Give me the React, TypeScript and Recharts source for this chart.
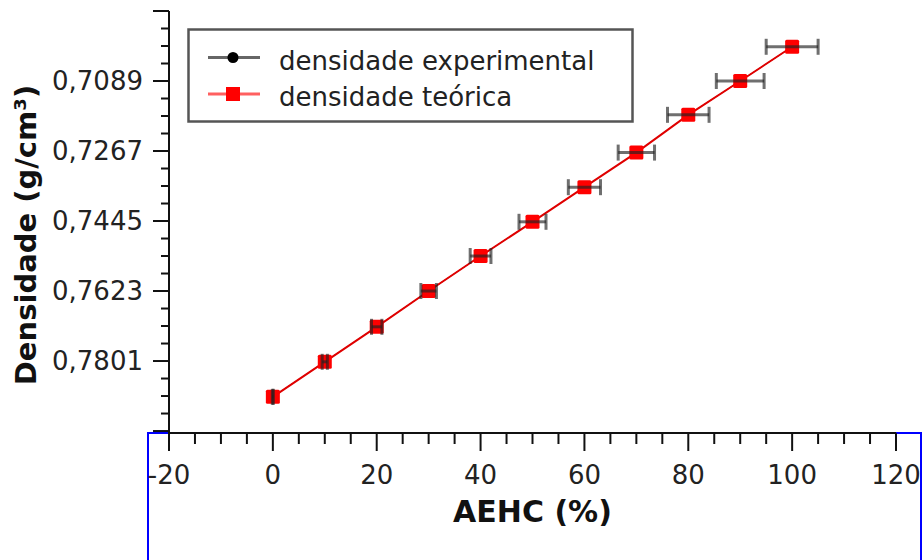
import React from 'react';
import { ComposedChart, Scatter, XAxis, YAxis, ErrorBar } from 'recharts';

const xValues = [0, 10, 20, 30, 40, 50, 60, 70, 80, 90, 100];
const densExperimental = [0.7892, 0.7803, 0.7714, 0.7623, 0.7534, 0.7447, 0.7359, 0.7271, 0.7175, 0.7089, 0.7002];
const densTeorica = [0.7892, 0.7803, 0.7714, 0.7623, 0.7534, 0.7447, 0.7359, 0.7271, 0.7175, 0.7089, 0.7002];
const xError = [0.1, 0.5, 1, 1.5, 2, 2.6, 3.1, 3.5, 4, 4.6, 5];

const yMajorTicks = [0.6911, 0.7089, 0.7267, 0.7445, 0.7623, 0.7801, 0.7979];
const yTickLabels = ['', '0,7089', '0,7267', '0,7445', '0,7623', '0,7801', ''];
const xMajorTicks = [-20, 0, 20, 40, 60, 80, 100, 120];
const xTickLabels = ['-20', '0', '20', '40', '60', '80', '100', '120'];

const yDomain = [0.6911, 0.7984];
const xDomain = [-20, 120];

const FONT = 'DejaVu Sans';

const expData = xValues.map((x, i) => ({ x, y: densExperimental[i], err: xError[i] }));
const teoData = xValues.map((x, i) => ({ x, y: densTeorica[i] }));

// minor ticks: 4 subdivisions between majors
const yTicksAll: number[] = [];
for (let i = 0; i < yMajorTicks.length; i++) {
  const v = yMajorTicks[i];
  yTicksAll.push(v);
  if (i < yMajorTicks.length - 1) {
    const step = (yMajorTicks[i + 1] - v) / 4;
    for (let k = 1; k < 4; k++) yTicksAll.push(+(v + k * step).toFixed(6));
  }
}
const xTicksAll: number[] = [];
for (let i = 0; i < xMajorTicks.length; i++) {
  const v = xMajorTicks[i];
  xTicksAll.push(v);
  if (i < xMajorTicks.length - 1) {
    const step = (xMajorTicks[i + 1] - v) / 4;
    for (let k = 1; k < 4; k++) xTicksAll.push(v + k * step);
  }
}

const YTick = (props: any) => {
  const { x, y, payload } = props;
  const idx = yMajorTicks.findIndex((m) => Math.abs(m - payload.value) < 1e-6);
  const major = idx >= 0;
  const len = major ? 16 : 8;
  return (
    <g>
      <line x1={x - len} y1={y} x2={x} y2={y} stroke="#111" strokeWidth={2} />
      {major && yTickLabels[idx] ? (
        <text x={x - 26} y={y + 9} textAnchor="end" fontFamily={FONT} fontSize={26} fill="#222">
          {yTickLabels[idx]}
        </text>
      ) : null}
    </g>
  );
};

const XTick = (props: any) => {
  const { x, y, payload } = props;
  const idx = xMajorTicks.findIndex((m) => Math.abs(m - payload.value) < 1e-6);
  const major = idx >= 0;
  const len = major ? 18 : 11;
  return (
    <g>
      <line x1={x} y1={y} x2={x} y2={y + len} stroke="#111" strokeWidth={2} />
      {major ? (
        <text x={x} y={y + 51} textAnchor="middle" fontFamily={FONT} fontSize={26} fill="#222">
          {xTickLabels[idx]}
        </text>
      ) : null}
    </g>
  );
};

const RedSquare = (props: any) => {
  const { cx, cy } = props;
  if (cx == null || cy == null) return <g />;
  return <rect x={cx - 7} y={cy - 7} width={14} height={14} fill="#ff0000" rx={1.5} />;
};

const BlackDot = (props: any) => {
  const { cx, cy } = props;
  if (cx == null || cy == null) return <g />;
  return <circle cx={cx} cy={cy} r={5} fill="#000" />;
};

const Empty = () => <g />;

const Legend = () => (
  <svg width={448} height={96} style={{ position: 'absolute', left: 187, top: 28 }}>
    <rect x={1.5} y={1.5} width={444} height={92} fill="#fff" stroke="#555" strokeWidth={2.5} />
    <line x1={21} y1={29.5} x2={73} y2={29.5} stroke="#666" strokeWidth={3} />
    <circle cx={46} cy={29.5} r={5.5} fill="#000" />
    <text x={92} y={42} fontFamily={FONT} fontSize={26} fill="#222">densidade experimental</text>
    <line x1={21} y1={66} x2={73} y2={66} stroke="#ff6060" strokeWidth={3} />
    <rect x={39} y={59} width={14} height={14} fill="#ff0000" />
    <text x={92} y={78} fontFamily={FONT} fontSize={26} fill="#222">densidade teórica</text>
  </svg>
);

export default function App() {
  return (
    <div style={{ position: 'absolute', left: 0, top: 0, width: 924, height: 560, overflow: 'hidden', background: '#fff' }}>
      <div
        style={{
          position: 'absolute',
          left: 147,
          top: 432,
          width: 771,
          height: 140,
          border: '2px solid #0000ff',
          borderBottom: 'none',
        }}
      />
      <div style={{ position: 'absolute', left: 0, top: 0 }}>
        <ComposedChart width={924} height={560} margin={{ top: 11, right: 28, bottom: 0, left: 0 }}>
          <XAxis
            type="number"
            dataKey="x"
            domain={xDomain}
            ticks={xTicksAll}
            interval={0}
            allowDataOverflow
            height={127}
            tickSize={0}
            tickMargin={0}
            tickLine={false}
            axisLine={{ stroke: '#111', strokeWidth: 2 }}
            tick={<XTick />}
            label={{
              content: (p: any) => {
                const vb = p.viewBox;
                return (
                  <text x={vb.x + vb.width / 2} y={vb.y + 89} textAnchor="middle" fontFamily={FONT} fontSize={30} fill="#111" fontWeight="bold">
                    AEHC (%)
                  </text>
                );
              },
            }}
          />
          <YAxis
            type="number"
            dataKey="y"
            domain={yDomain}
            reversed
            ticks={yTicksAll}
            interval={0}
            allowDataOverflow
            width={169}
            tickSize={0}
            tickMargin={0}
            tickLine={false}
            axisLine={{ stroke: '#111', strokeWidth: 2 }}
            tick={<YTick />}
            label={{
              content: (p: any) => {
                const vb = p.viewBox;
                const cy = vb.y + vb.height / 2 + 13;
                return (
                  <text x={36} y={cy} transform={`rotate(-90, 36, ${cy})`} textAnchor="middle" fontFamily={FONT} fontSize={29} fill="#111" fontWeight="bold">
                    Densidade (g/cm³)
                  </text>
                );
              },
            }}
          />
          <Scatter
            name="densidade experimental"
            data={expData}
            line={{ stroke: '#000', strokeWidth: 1 }}
            shape={<BlackDot />}
            isAnimationActive={false}
          />
          <Scatter
            name="densidade teórica"
            data={teoData}
            line={{ stroke: '#e00000', strokeWidth: 2 }}
            shape={<RedSquare />}
            isAnimationActive={false}
          />
          <Scatter name="erro" data={expData} shape={<Empty />} isAnimationActive={false} {...({ zIndex: 2000 } as any)}>
            <ErrorBar dataKey="err" direction="x" width={8} stroke="#222" strokeWidth={3} strokeOpacity={0.65} isAnimationActive={false} {...({ zIndex: 2000 } as any)} />
          </Scatter>
        </ComposedChart>
      </div>
      <Legend />
    </div>
  );
}
